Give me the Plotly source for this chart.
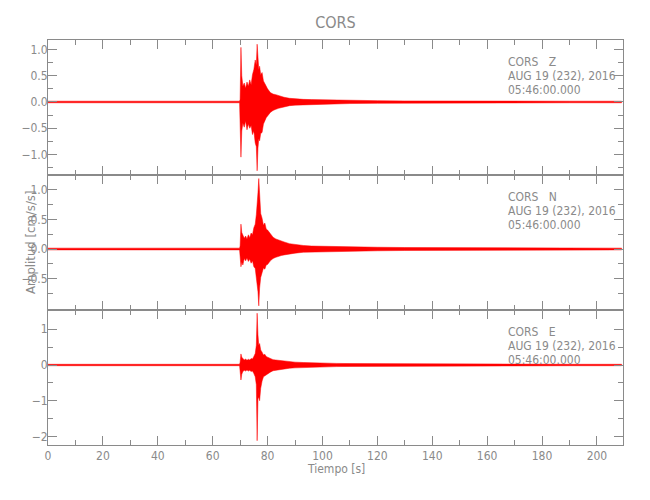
import plotly.graph_objects as go
from plotly.subplots import make_subplots

# ---- data (envelope of each component) ----
T = [0, 20, 40, 60, 69.8, 70.0, 70.3, 70.6, 71.0, 71.5, 72.0, 72.5, 73.0, 73.5,
     74.0, 74.5, 75.0, 75.5, 75.9, 76.2, 76.5, 76.8, 77.1, 77.5, 78.0, 78.5,
     79.0, 79.5, 80.0, 81, 82, 83, 84, 85, 86, 88, 90, 93, 96, 100, 105, 110,
     120, 130, 150, 170, 190, 209]

Z_UP = [0.015, 0.015, 0.015, 0.015, 0.015, 0.05, 1.04, 0.50, 0.30, 0.36, 0.26, 0.38,
        0.30, 0.42, 0.33, 0.52, 0.62, 0.80, 0.70, 1.10, 0.78, 0.62, 0.68, 0.52,
        0.56, 0.40, 0.35, 0.28, 0.25, 0.18, 0.15, 0.14, 0.12, 0.10, 0.09, 0.07,
        0.06, 0.05, 0.045, 0.04, 0.035, 0.03, 0.025, 0.02, 0.015, 0.015, 0.015, 0.015]
Z_LO = [-0.015, -0.015, -0.015, -0.015, -0.015, -0.05, -1.05, -0.55, -0.40, -0.48,
        -0.36, -0.53, -0.42, -0.50, -0.45, -0.62, -0.55, -0.78, -0.85, -1.31,
        -0.88, -0.70, -0.74, -0.60, -0.58, -0.42, -0.36, -0.30, -0.26, -0.20,
        -0.16, -0.14, -0.12, -0.10, -0.09, -0.07, -0.06, -0.05, -0.045, -0.04,
        -0.035, -0.03, -0.025, -0.02, -0.015, -0.015, -0.015, -0.015]

N_UP = [0.015, 0.015, 0.015, 0.015, 0.015, 0.05, 0.42, 0.28, 0.24, 0.18, 0.22,
        0.17, 0.24, 0.19, 0.27, 0.24, 0.36, 0.42, 0.58, 0.72, 0.95, 1.19, 0.85,
        0.60, 0.52, 0.40, 0.44, 0.34, 0.32, 0.25, 0.20, 0.17, 0.15, 0.13, 0.12,
        0.09, 0.075, 0.06, 0.05, 0.045, 0.04, 0.035, 0.03, 0.025, 0.02, 0.015,
        0.015, 0.015]
N_LO = [-0.015, -0.015, -0.015, -0.015, -0.015, -0.05, -0.30, -0.22, -0.27,
        -0.16, -0.20, -0.15, -0.21, -0.17, -0.24, -0.20, -0.30, -0.33, -0.45,
        -0.58, -0.72, -0.96, -0.66, -0.48, -0.40, -0.32, -0.34, -0.27, -0.26,
        -0.20, -0.16, -0.14, -0.12, -0.11, -0.10, -0.08, -0.07, -0.055, -0.05,
        -0.045, -0.04, -0.035, -0.03, -0.025, -0.02, -0.015, -0.015, -0.015]

E_UP = [0.02, 0.02, 0.02, 0.02, 0.02, 0.08, 0.31, 0.22, 0.18, 0.14, 0.17, 0.13,
        0.16, 0.14, 0.18, 0.17, 0.24, 0.32, 0.55, 1.45, 0.85, 0.55, 0.60, 0.42,
        0.36, 0.28, 0.30, 0.24, 0.22, 0.18, 0.15, 0.14, 0.13, 0.12, 0.11, 0.09,
        0.08, 0.07, 0.06, 0.05, 0.045, 0.04, 0.035, 0.03, 0.02, 0.02, 0.02, 0.02]
E_LO = [-0.02, -0.02, -0.02, -0.02, -0.02, -0.08, -0.42, -0.26, -0.18, -0.15,
        -0.17, -0.14, -0.17, -0.15, -0.18, -0.17, -0.24, -0.33, -0.55, -2.12,
        -0.95, -0.90, -1.00, -0.65, -0.45, -0.33, -0.30, -0.26, -0.25, -0.20,
        -0.16, -0.14, -0.13, -0.12, -0.11, -0.09, -0.08, -0.07, -0.06, -0.05,
        -0.045, -0.04, -0.035, -0.03, -0.02, -0.02, -0.02, -0.02]

COMPONENTS = ["Z", "N", "E"]
STATION = "CORS"
DATE_TXT = "AUG 19 (232), 2016"
TIME_TXT = "05:46:00.000"
TITLE = "CORS"
XTITLE = "Tiempo [s]"
YTITLE = "Amplitud [cm/s/s]"
X_TICKS = [0, 20, 40, 60, 80, 100, 120, 140, 160, 180, 200]

# ---- figure ----
GREY = "#8a8a8a"
FONT = "DejaVu Sans Condensed, Liberation Sans Narrow, Liberation Sans, sans-serif"
RED = "#ff0000"

fig = make_subplots(rows=3, cols=1, shared_xaxes=True, vertical_spacing=0)

envs = [(Z_UP, Z_LO), (N_UP, N_LO), (E_UP, E_LO)]
for i, (up, lo) in enumerate(envs):
    fig.add_trace(go.Scatter(
        x=T + T[::-1], y=up + lo[::-1], mode="lines", fill="toself",
        fillcolor=RED, line=dict(color=RED, width=0.5), hoverinfo="skip",
        showlegend=False), row=i + 1, col=1)

yranges = [[-1.39, 1.18], [-1.03, 1.25], [-2.24, 1.54]]
ytickvals = [[-1.0, -0.5, 0.0, 0.5, 1.0], [-0.5, 0.0, 0.5, 1.0], [-2, -1, 0, 1]]
yfmt = [".1f", ".1f", "d"]
yminor = [[-1.25, -0.75, -0.25, 0.25, 0.75],
          [-0.75, -0.25, 0.25, 0.75],
          [-1.5, -0.5, 0.5]]

axis_common = dict(showline=True, linecolor=GREY, linewidth=1, mirror="allticks",
                   ticks="inside", ticklen=9, tickcolor=GREY, tickwidth=1,
                   showgrid=False, zeroline=False, automargin=False,
                   tickfont=dict(family=FONT, size=12, color=GREY))

for i in range(3):
    fig.update_yaxes(range=yranges[i], tickmode="array", tickvals=ytickvals[i],
                     tickformat=yfmt[i], ticklabelstandoff=-3,
                     minor=dict(ticks="inside", ticklen=5, tickcolor=GREY,
                                tickmode="array", tickvals=yminor[i]),
                     row=i + 1, col=1, **axis_common)
    fig.update_xaxes(range=[0, 209.5], tickmode="array", tickvals=X_TICKS,
                     minor=dict(ticks="inside", ticklen=5, tickcolor=GREY,
                                tickmode="linear", tick0=0, dtick=10),
                     showticklabels=(i == 2), row=i + 1, col=1, **axis_common)

# The page adds an 8 px body margin; positions below are screen pixels.
OFF = 8
W, H = 650, 500
SL, SR, ST, SB = 48, 623, 40, 445          # plot area on screen
L = SL - OFF
R = W - (SR - OFF)
TOP = ST - OFF
B = H - (SB - OFF)
PH = SB - ST
PW = SR - SL

def py(pix):
    return (SB - pix) / PH

def px(pix):
    return (pix - SL) / PW

ann = []
panel_tops = [40, 175, 310]
for i, comp in enumerate(COMPONENTS):
    lines = [STATION + "\u00a0\u00a0\u00a0" + comp, DATE_TXT, TIME_TXT]
    for k, txt in enumerate(lines):
        ann.append(dict(text=txt, xref="paper", yref="paper", x=px(506),
                        y=py(panel_tops[i] + 22 + 14 * k), xanchor="left",
                        yanchor="middle", showarrow=False,
                        font=dict(family=FONT, size=12, color=GREY)))

ann.append(dict(text=XTITLE, xref="paper", yref="paper", x=0.5, y=py(469),
                xanchor="center", yanchor="middle", showarrow=False,
                font=dict(family=FONT, size=12, color=GREY)))
ann.append(dict(text=YTITLE, xref="paper", yref="paper", x=px(30), y=py(243),
                xanchor="center", yanchor="middle", showarrow=False,
                textangle=-90, font=dict(family=FONT, size=13, color=GREY)))

fig.update_layout(
    width=W, height=H, margin=dict(l=L, r=R, t=TOP, b=B, autoexpand=False),
    paper_bgcolor="white", plot_bgcolor="white",
    title=dict(text=TITLE, x=0.5, xref="paper", y=1 - (22 - OFF) / H,
               yanchor="middle", font=dict(family=FONT, size=16, color=GREY)),
    annotations=ann, showlegend=False,
)

fig.write_html("out.html")
